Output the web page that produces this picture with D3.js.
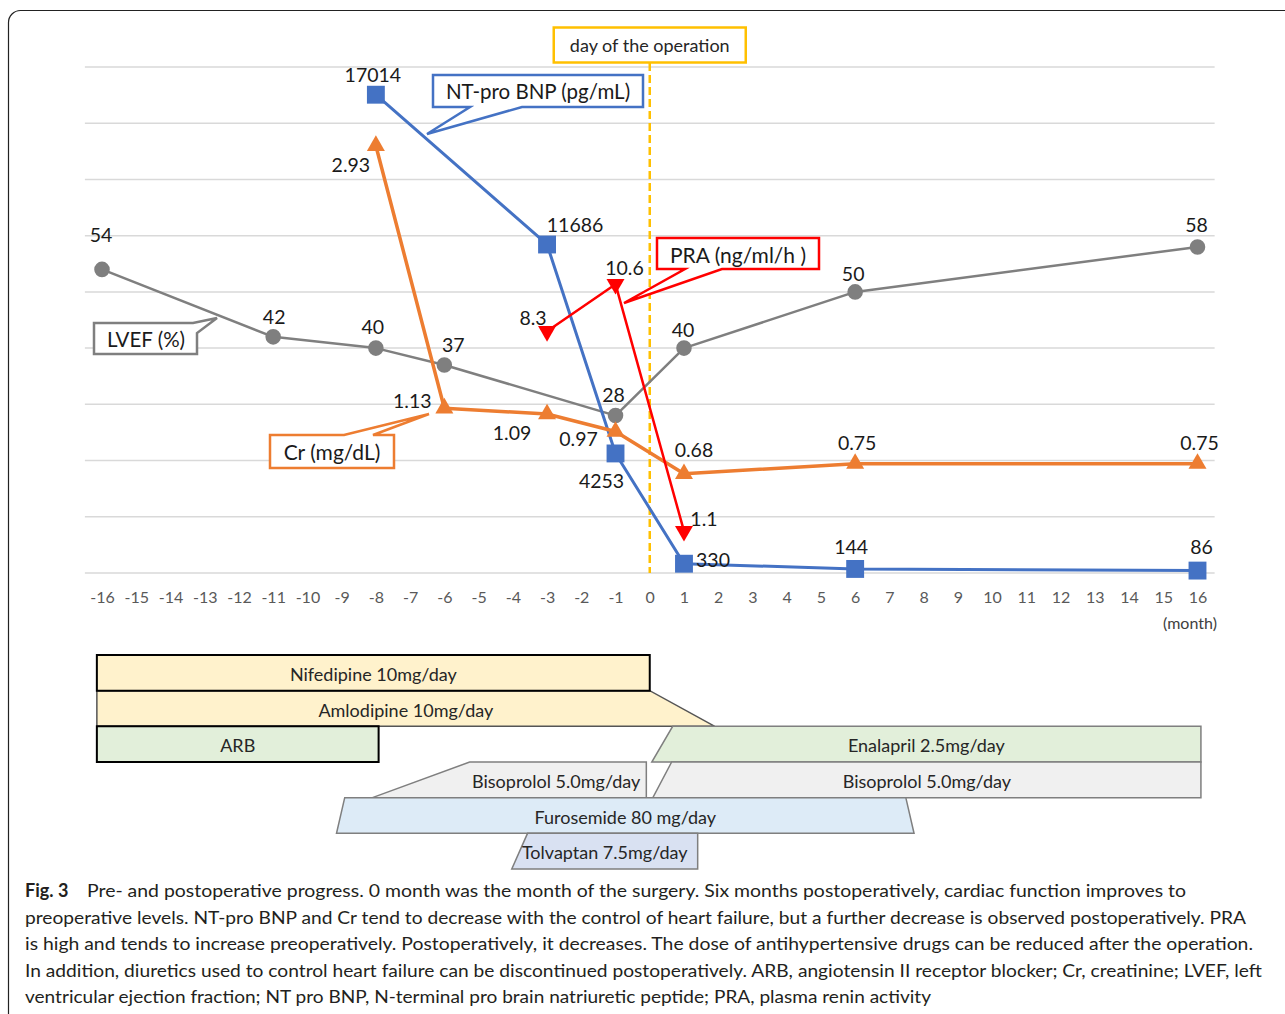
<!DOCTYPE html>
<html><head><meta charset="utf-8">
<script src="https://cdn.jsdelivr.net/npm/d3@7"></script>
<style>
body{margin:0;background:#fff}
svg{display:block}
text{font-family:Lato,"Noto Sans",sans-serif}
</style>
</head><body>
<svg id="c" width="1285" height="1014"></svg>
<script>
// ---------- data ----------
const monthTicks = d3.range(-16, 17);
const lvefMonths = [-16, -11, -8, -6, -1, 1, 6, 16];
const lvefValues = [54, 42, 40, 37, 28, 40, 50, 58];
const bnpMonths = [-8, -3, -1, 1, 6, 16];
const bnpValues = [17014, 11686, 4253, 330, 144, 86];
const crMonths = [-8, -6, -3, -1, 1, 6, 16];
const crValues = [2.93, 1.13, 1.09, 0.97, 0.68, 0.75, 0.75];
const praMonths = [-3, -1, 1];
const praValues = [8.3, 10.6, 1.1];

const drugNames = ["Nifedipine 10mg/day", "Amlodipine 10mg/day", "ARB", "Enalapril 2.5mg/day",
  "Bisoprolol 5.0mg/day", "Bisoprolol 5.0mg/day", "Furosemide 80 mg/day", "Tolvaptan 7.5mg/day"];
const drugRow = [0, 1, 2, 2, 3, 3, 4, 5];
const drugStartTop = [-16.15, -16.15, -16.15, 0.67, -5.26, 0.64, -8.91, -3.57];
const drugStartBottom = [-16.15, -16.15, -16.15, 0.06, -8.1, 0.09, -9.15, -4.03];
const drugEndTop = [0, 0, -7.92, 16.1, -0.1, 16.1, 7.48, 1.4];
const drugEndBottom = [0, 1.9, -7.92, 16.1, -0.1, 16.1, 7.72, 1.4];

const captionBold = "Fig. 3";
const captionLines = [
  "Pre- and postoperative progress. 0 month was the month of the surgery. Six months postoperatively, cardiac function improves to",
  "preoperative levels. NT-pro BNP and Cr tend to decrease with the control of heart failure, but a further decrease is observed postoperatively. PRA",
  "is high and tends to increase preoperatively. Postoperatively, it decreases. The dose of antihypertensive drugs can be reduced after the operation.",
  "In addition, diuretics used to control heart failure can be discontinued postoperatively. ARB, angiotensin II receptor blocker; Cr, creatinine; LVEF, left",
  "ventricular ejection fraction; NT pro BNP, N-terminal pro brain natriuretic peptide; PRA, plasma renin activity"
];

// ---------- layout (label offsets, styles) ----------
const lvefLabelOff = [[-1,-35],[1,-20],[-3,-22],[9,-20],[-2,-21],[-1,-19],[-2,-18],[-1,-22]];
const bnpLabelOff = [[-3,-20],[28,-20],[-14,27],[29,-4],[-4,-22],[4,-24]];
const crLabelOff = [[-25,19],[-32,-8],[-35,18],[-37,7],[10,-24],[2,-21],[2,-21]];
const praLabelOff = [[-14,-14],[9,-17],[20,-13]];
const drugFill = ["#FFF2CC","#FFF2CC","#E2EFDA","#E2EFDA","#F0F0F0","#F0F0F0","#DDEBF7","#D9E1F2"];
const drugStroke = ["#000","#555","#000","#7f7f7f","#7f7f7f","#7f7f7f","#7f7f7f","#7f7f7f"];
const drugStrokeW = [2,1.5,2,1.5,1.5,1.5,1.5,1.5];
const drugAlign = ["middle","middle","middle","middle","end","middle","middle","middle"];

const svg = d3.select("#c");

// frame
svg.append("rect").attr("x", 8.5).attr("y", 10.5).attr("width", 1320).attr("height", 1015)
  .attr("rx", 12).attr("fill", "none").attr("stroke", "#222").attr("stroke-width", 1.2);

// scales
const x = d3.scaleLinear().domain([-16, 16]).range([102, 1197.5]);
const yL = d3.scaleLinear().domain([0, 90]).range([573, 67]);
const yB = d3.scaleLinear().domain([0, 18000]).range([573, 67]);
const yC = d3.scaleLinear().domain([0, 3.47]).range([573, 67]);
const yP = d3.scalePow().exponent(0.65).domain([0.3, 23.5]).range([573, 67]);

// gridlines
svg.append("g").selectAll("line").data(yL.ticks(9)).join("line")
  .attr("x1", x(-16.5)).attr("x2", x(16.5))
  .attr("y1", d => yL(d)).attr("y2", d => yL(d))
  .attr("stroke", "#d9d9d9").attr("stroke-width", 1.5);

// x axis
const xAxis = d3.axisBottom(x).tickValues(monthTicks).tickSize(0).tickPadding(0).tickFormat(d => d < 0 ? "-" + Math.abs(d) : d);
const gx = svg.append("g").attr("transform", "translate(0,592)").call(xAxis);
gx.select(".domain").remove();
gx.selectAll("text").attr("fill", "#595959").attr("font-size", 16).attr("font-family", "Lato, sans-serif").attr("dy", "0.7em");
svg.append("text").attr("x", 1190).attr("y", 622).attr("text-anchor", "middle").attr("dominant-baseline", "central")
  .attr("font-size", 16).attr("fill", "#404040").text("(month)");

// operation day line + box
svg.append("line").attr("x1", x(0)).attr("x2", x(0)).attr("y1", 63).attr("y2", 573)
  .attr("stroke", "#FFC000").attr("stroke-width", 2.5).attr("stroke-dasharray", "8,4");
svg.append("rect").attr("x", x(0) - 96).attr("y", 27.5).attr("width", 192).attr("height", 35)
  .attr("fill", "#fff").attr("stroke", "#FFC000").attr("stroke-width", 2.5);
svg.append("text").attr("x", x(0)).attr("y", 45).attr("text-anchor", "middle").attr("dominant-baseline", "central")
  .attr("font-size", 18).attr("fill", "#262626").text("day of the operation");

// helper to draw series
function series(months, values, yS, color, width, symType, symSize, rot) {
  const pts = months.map((m, i) => [x(m), yS(values[i])]);
  svg.append("path").attr("d", d3.line()(pts)).attr("fill", "none")
    .attr("stroke", color).attr("stroke-width", width).attr("stroke-linejoin", "round");
  svg.append("g").selectAll("path").data(pts).join("path")
    .attr("d", d3.symbol().type(symType).size(symSize))
    .attr("transform", d => `translate(${d[0]},${d[1]}) rotate(${rot})`)
    .attr("fill", color);
  return pts;
}
function labels(pts, values, offs, fmt) {
  svg.append("g").selectAll("text").data(pts).join("text")
    .attr("x", (d, i) => d[0] + offs[i][0]).attr("y", (d, i) => d[1] + offs[i][1])
    .attr("text-anchor", "middle").attr("dominant-baseline", "central")
    .attr("font-size", 19.5).attr("fill", "#1a1a1a")
    .text((d, i) => fmt(values[i]));
}

const pL = series(lvefMonths, lvefValues, yL, "#7f7f7f", 2.5, d3.symbolCircle, 190, 0);
const pB = series(bnpMonths, bnpValues, yB, "#4472C4", 3, d3.symbolSquare, 320, 0);
const pC = series(crMonths, crValues, yC, "#ED7D31", 3.5, d3.symbolTriangle, 140, 0);
const pP = series(praMonths, praValues, yP, "#FF0000", 2.5, d3.symbolTriangle, 140, 180);

labels(pL, lvefValues, lvefLabelOff, d => d);
labels(pB, bnpValues, bnpLabelOff, d => d);
labels(pC, crValues, crLabelOff, d => d.toFixed(2));
labels(pP, praValues, praLabelOff, d => d);

// callouts
function callout(pathPts, color, text, tx, ty, fs) {
  svg.append("path").attr("d", d3.line()(pathPts) + "Z").attr("fill", "#fff")
    .attr("stroke", color).attr("stroke-width", 2.5).attr("stroke-linejoin", "miter");
  svg.append("text").attr("x", tx).attr("y", ty).attr("text-anchor", "middle").attr("dominant-baseline", "central")
    .attr("font-size", fs).attr("fill", "#1a1a1a").text(text);
}
callout([[433,75],[643,75],[643,107],[522,107],[427,134],[470,107],[433,107]], "#4472C4", "NT-pro BNP (pg/mL)", 538, 91, 20.5);
callout([[657,238],[819,238],[819,269],[722,269],[624,303],[685,269],[657,269]], "#FF0000", "PRA (ng/ml/h )", 738, 254, 21);
callout([[94,323],[193,323],[217,318],[197,333],[197,354],[94,354]], "#7f7f7f", "LVEF (%)", 146, 339, 20.5);
callout([[270,435],[344,435],[429,414],[373,435],[394,435],[394,468],[270,468]], "#ED7D31", "Cr (mg/dL)", 332, 451, 21);

// drug timeline
const yR = d3.scaleLinear().domain([0, 6]).range([655, 869]);
const order = [1, 0, 2, 3, 4, 5, 6, 7];
order.forEach(i => {
  const t = yR(drugRow[i]), b = yR(drugRow[i] + 1);
  const poly = [[x(drugStartTop[i]), t], [x(drugEndTop[i]), t], [x(drugEndBottom[i]), b], [x(drugStartBottom[i]), b]];
  svg.append("path").attr("d", d3.line()(poly) + "Z").attr("fill", drugFill[i])
    .attr("stroke", drugStroke[i]).attr("stroke-width", drugStrokeW[i]);
  const minX = Math.min(x(drugStartTop[i]), x(drugStartBottom[i]));
  const maxX = Math.max(x(drugEndTop[i]), x(drugEndBottom[i]));
  const tx = drugAlign[i] === "end" ? maxX - 6 : (minX + maxX) / 2;
  svg.append("text").attr("x", tx).attr("y", (t + b) / 2 + 1).attr("text-anchor", drugAlign[i])
    .attr("dominant-baseline", "central").attr("font-size", 18).attr("fill", "#262626").text(drugNames[i]);
});

// caption
const capW = [1099, 1221, 1228, 1237, 906];
const capX0 = [87, 25, 25, 25, 25];
svg.append("text").attr("x", 25).attr("y", 897).attr("font-size", 18).attr("font-weight", 700)
  .attr("fill", "#231f20").text(captionBold);
captionLines.forEach((s, i) => {
  svg.append("text").attr("x", capX0[i]).attr("y", 897 + i * 26.6).attr("font-size", 18)
    .attr("fill", "#231f20").attr("textLength", capW[i]).attr("lengthAdjust", "spacingAndGlyphs").text(s);
});
</script>
</body></html>
